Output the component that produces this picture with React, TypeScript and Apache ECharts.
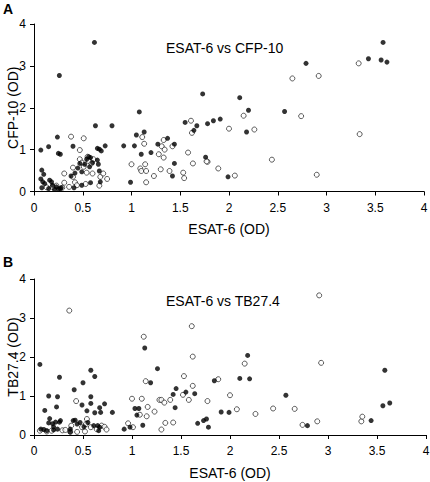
import React, { useEffect, useRef } from "react";
import * as echarts from "echarts";

// Panel A: ESAT-6 (x) vs CFP-10 (y)
const aFilled: number[][] = [
  [0.07, 0.99], [0.15, 1.07], [0.24, 1.3], [0.26, 2.77], [0.25, 0.91], [0.27, 0.89],
  [0.4, 1.08], [0.62, 3.56], [0.63, 1.57], [0.8, 1.57], [0.65, 1.03], [0.67, 1.01],
  [0.69, 0.97], [0.73, 1.09],
  [0.38, 0.37], [0.42, 0.44], [0.45, 0.56], [0.47, 0.67], [0.49, 0.47], [0.52, 0.65],
  [0.54, 0.77], [0.56, 0.83], [0.58, 0.81], [0.57, 0.59], [0.6, 0.69], [0.65, 0.75],
  [0.66, 0.65], [0.67, 0.49], [0.68, 0.23], [0.58, 0.21], [0.49, 0.15], [0.41, 0.09],
  [0.08, 0.51], [0.07, 0.3], [0.1, 0.41], [0.09, 0.23], [0.11, 0.19], [0.08, 0.09],
  [0.15, 0.07], [0.18, 0.23], [0.19, 0.15], [0.23, 0.11], [0.25, 0.06], [0.27, 0.07],
  [0.28, 0.09], [0.21, 0.05], [0.16, 0.27],
  [1.08, 1.9], [1.05, 1.35], [1.13, 1.42], [1.03, 1.09], [0.92, 1.09], [1.1, 0.89],
  [1.2, 0.93], [1.27, 1.13], [1.37, 1.27], [1.44, 1.13], [1.44, 0.67], [1.42, 0.37],
  [0.99, 0.22], [1.55, 1.65], [1.64, 1.46], [1.67, 1.57], [1.73, 2.33], [1.78, 1.62],
  [1.84, 1.69], [1.76, 0.82], [1.91, 1.73], [2.11, 2.24], [2.2, 1.94], [2.18, 1.42],
  [1.99, 0.35], [2.57, 1.91], [2.79, 3.06], [3.43, 3.17], [3.56, 3.14], [3.58, 3.56],
  [3.62, 3.09],
];
const aOpen: number[][] = [
  [1.78, 0.71], [1.89, 0.55], [2.06, 0.38], [2.0, 1.5], [2.15, 1.81], [2.26, 1.48],
  [2.44, 0.76], [2.65, 2.7], [2.74, 1.8], [2.92, 2.76], [2.9, 0.4], [3.33, 3.06],
  [3.34, 1.37],
  [1.11, 1.3], [1.0, 0.65], [1.09, 0.55], [1.1, 0.49], [1.14, 0.65], [1.15, 0.49],
  [1.15, 0.22], [1.23, 0.37], [1.28, 0.89], [1.3, 0.53], [1.31, 1.08], [1.33, 1.23],
  [1.34, 1.0], [1.33, 0.81], [1.39, 0.49], [1.42, 1.08], [1.53, 0.45], [1.54, 0.32],
  [1.58, 0.93], [1.61, 1.69], [1.62, 1.4], [1.63, 0.67], [1.77, 0.72], [1.13, 1.14],
  [0.38, 1.31], [0.51, 1.27], [0.47, 0.99], [0.47, 0.77], [0.55, 0.83], [0.56, 0.73],
  [0.59, 0.67], [0.61, 0.77], [0.51, 0.59], [0.4, 0.57], [0.31, 0.43], [0.4, 0.35],
  [0.31, 0.21], [0.42, 0.22], [0.53, 0.18], [0.54, 0.45], [0.6, 0.43], [0.68, 0.35],
  [0.71, 0.43], [0.75, 0.3], [0.67, 0.14], [0.49, 0.69], [0.44, 0.15], [0.23, 0.14],
  [0.19, 0.11], [0.13, 0.1], [0.29, 0.09], [0.36, 0.11],
];

// Panel B: ESAT-6 (x) vs TB27.4 (y)
const bFilled: number[][] = [
  [0.06, 1.81], [0.26, 1.48], [0.15, 1.0], [0.24, 0.98], [0.23, 0.72], [0.11, 0.63],
  [0.41, 1.16], [0.5, 1.34], [0.58, 1.66], [0.62, 1.5], [0.58, 0.98], [0.58, 0.81],
  [0.49, 0.77], [0.54, 0.62], [0.62, 0.57], [0.67, 0.7], [0.68, 0.58], [0.72, 0.8],
  [0.8, 0.58],
  [0.07, 0.15], [0.1, 0.14], [0.13, 0.11], [0.16, 0.42], [0.15, 0.31], [0.19, 0.29],
  [0.22, 0.33], [0.2, 0.21], [0.24, 0.15], [0.26, 0.33], [0.27, 0.37], [0.2, 0.13],
  [0.37, 0.15], [0.4, 0.37], [0.42, 0.38], [0.44, 0.28], [0.47, 0.32], [0.51, 0.21],
  [0.55, 0.32], [0.61, 0.24], [0.65, 0.24], [0.67, 0.2], [0.66, 0.11], [0.37, 0.08],
  [0.92, 0.15], [0.98, 0.2], [1.03, 0.68], [1.07, 0.68], [1.05, 0.51], [1.11, 0.25],
  [1.13, 2.23], [1.19, 1.34], [1.26, 1.7], [1.42, 1.04], [1.45, 1.19], [1.44, 0.7],
  [1.55, 1.1], [1.64, 1.06], [1.67, 0.3], [1.73, 0.37], [1.76, 0.41], [1.78, 0.2],
  [1.84, 1.39], [1.91, 0.59], [1.99, 0.58], [2.1, 1.45], [2.18, 2.04], [2.2, 1.44],
  [2.57, 1.02], [2.79, 0.24], [3.44, 0.37], [3.56, 0.75], [3.58, 1.66], [3.63, 0.82],
];
const bOpen: number[][] = [
  [0.36, 3.19], [0.43, 0.87], [1.12, 2.52], [1.14, 1.38], [1.0, 0.93], [1.1, 0.93],
  [0.96, 0.3], [1.01, 0.2], [1.08, 0.52], [1.16, 0.72], [1.15, 0.48], [1.23, 0.6],
  [1.28, 0.9], [1.3, 0.9], [1.33, 0.83], [1.34, 0.31], [1.3, 0.14], [1.39, 0.9],
  [1.42, 0.32], [1.53, 1.51], [1.52, 1.03], [1.58, 0.9], [1.62, 1.26], [1.61, 2.79],
  [1.62, 2.01], [1.77, 0.87],
  [0.06, 0.11], [0.13, 0.09], [0.18, 0.11], [0.29, 0.12], [0.32, 0.13], [0.38, 0.24],
  [0.37, 0.08], [0.44, 0.08], [0.49, 0.2], [0.53, 0.28], [0.54, 0.41], [0.52, 0.09],
  [0.58, 0.2], [0.64, 0.15], [0.69, 0.24], [0.72, 0.21], [0.74, 0.14],
  [1.88, 1.43], [2.0, 1.02], [2.07, 0.66], [2.15, 1.83], [2.26, 0.54], [2.44, 0.68],
  [2.66, 0.67], [2.74, 0.26], [2.89, 0.35], [2.91, 3.58], [2.93, 1.85], [3.34, 0.35],
  [3.35, 0.47],
];

const xLabel = "ESAT-6 (OD)";
const yLabels = ["CFP-10 (OD)", "TB27.4 (OD)"];
const titles = ["ESAT-6 vs CFP-10", "ESAT-6 vs TB27.4"];
const panelLetters = ["A", "B"];

const FONT = "Liberation Sans, Arial, sans-serif";

export default function App() {
  const ref = useRef<HTMLDivElement>(null);
  useEffect(() => {
    if (!ref.current) return;
    const chart = echarts.init(ref.current, null, { renderer: "svg" });
    const axisCommon = {
      axisLine: { show: true, lineStyle: { color: "#000", width: 1 } },
      axisTick: { show: true, length: 4, lineStyle: { color: "#000" } },
      splitLine: { show: false },
      axisLabel: { color: "#000", fontSize: 12, fontFamily: FONT },
      nameTextStyle: { color: "#000", fontSize: 14, fontFamily: FONT },
      nameLocation: "middle" as const,
      nameMoveOverlap: false,
    };
    const xa = (gi: number, gap: number) => ({
      ...axisCommon,
      type: "value" as const,
      gridIndex: gi,
      min: 0,
      max: 4,
      interval: 0.5,
      name: xLabel,
      nameGap: gap,
      axisLabel: { ...axisCommon.axisLabel, margin: 10 },
    });
    const ya = (gi: number) => ({
      ...axisCommon,
      type: "value" as const,
      gridIndex: gi,
      min: 0,
      max: 4,
      interval: 1,
      name: yLabels[gi],
      nameGap: 14,
      axisLabel: { ...axisCommon.axisLabel, margin: 8 },
    });
    const filled = (data: number[][], i: number) => ({
      type: "scatter" as const,
      xAxisIndex: i,
      yAxisIndex: i,
      data,
      symbol: "circle",
      symbolSize: 5,
      itemStyle: { color: "#000" },
    });
    const open = (data: number[][], i: number) => ({
      type: "scatter" as const,
      xAxisIndex: i,
      yAxisIndex: i,
      data,
      symbol: "circle",
      symbolSize: 5,
      itemStyle: { color: "#fff", borderColor: "#000", borderWidth: 0.8 },
    });
    chart.setOption({
      animation: false,
      backgroundColor: "#fff",
      textStyle: { fontFamily: FONT },
      title: [
        { text: titles[0], left: 166, top: 41, textStyle: { fontSize: 14, fontWeight: "normal", color: "#000", fontFamily: FONT }, padding: 0 },
        { text: titles[1], left: 166, top: 294, textStyle: { fontSize: 14, fontWeight: "normal", color: "#000", fontFamily: FONT }, padding: 0 },
        { text: panelLetters[0], left: 3, top: 2, textStyle: { fontSize: 14, fontWeight: "bold", color: "#000", fontFamily: FONT }, padding: 0 },
        { text: panelLetters[1], left: 3, top: 255, textStyle: { fontSize: 14, fontWeight: "bold", color: "#000", fontFamily: FONT }, padding: 0 },
      ],
      grid: [
        { left: 34, top: 24, width: 390, height: 167.5, outerBoundsMode: "none", containLabel: false },
        { left: 34, top: 279, width: 392, height: 156, outerBoundsMode: "none", containLabel: false },
      ],
      xAxis: [xa(0, 30), xa(1, 31)],
      yAxis: [ya(0), ya(1)],
      series: [open(aOpen, 0), filled(aFilled, 0), open(bOpen, 1), filled(bFilled, 1)],
    });
    return () => chart.dispose();
  }, []);
  return <div ref={ref} style={{ width: 430, height: 482, position: "absolute", left: 0, top: 0 }} />;
}
